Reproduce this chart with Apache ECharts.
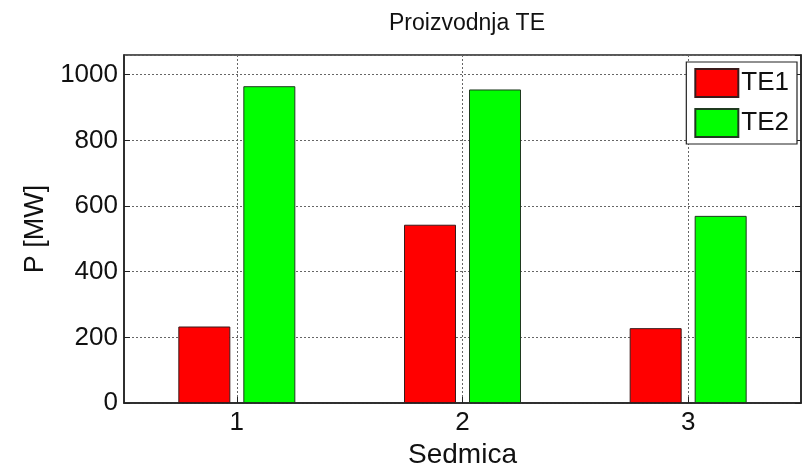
<!DOCTYPE html>
<html>
<head>
<meta charset="utf-8">
<script src="https://cdn.jsdelivr.net/npm/echarts@6/dist/echarts.min.js"></script>
<style>html,body{margin:0;padding:0;background:#fff}#c{width:808px;height:467px}</style>
</head>
<body>
<div id="c"></div>
<script>
const categories = ['1', '2', '3'];
const te1 = [233, 543, 228];
const te2 = [965, 955, 570];
const yTicks = [0, 200, 400, 600, 800, 1000];
const seriesNames = ['TE1', 'TE2'];

const FONT = '"Liberation Sans", Arial, sans-serif';
const chart = echarts.init(document.getElementById('c'), null, {renderer: 'canvas'});
chart.setOption({
  animation: false,
  backgroundColor: '#fff',
  textStyle: {fontFamily: FONT, color: '#111'},
  title: {
    text: 'Proizvodnja TE',
    left: 462, top: 7, textAlign: 'center',
    textStyle: {fontFamily: FONT, fontSize: 23, fontWeight: 'normal', color: '#111'}
  },
  grid: {left: 124, right: 7, top: 55, bottom: 64, show: true, borderColor: '#222', borderWidth: 1.5,
         backgroundColor: 'transparent', containLabel: false, outerBoundsMode: 'none'},
  legend: {
    orient: 'vertical', right: 11, top: 62,
    itemWidth: 43, itemHeight: 28, itemGap: 10,
    padding: [6, 8, 6, 8],
    borderColor: '#222', borderWidth: 1.2, backgroundColor: '#fff',
    icon: 'rect',
    textStyle: {fontFamily: FONT, fontSize: 26, color: '#111', padding: [0, 0, 0, -2]},
    data: seriesNames
  },
  xAxis: {
    type: 'category', data: categories,
    name: 'Sedmica', nameLocation: 'middle', nameGap: 34,
    nameTextStyle: {fontFamily: FONT, fontSize: 28, color: '#111'},
    axisLine: {lineStyle: {color: '#222', width: 1.5}},
    axisTick: {show: true, alignWithLabel: true, inside: true, length: 6, lineStyle: {color: '#222'}},
    axisLabel: {fontFamily: FONT, fontSize: 26, color: '#111', margin: 7},
    splitLine: {show: true, alignWithLabel: true, lineStyle: {color: '#666', type: [2, 2], width: 1}}
  },
  yAxis: [{
    type: 'value', min: 0, max: 1060, interval: 200,
    name: 'P [MW]', nameLocation: 'middle', nameGap: 73,
    nameTextStyle: {fontFamily: FONT, fontSize: 27, color: '#111'},
    axisLine: {show: true, lineStyle: {color: '#222', width: 1.5}},
    axisTick: {show: true, inside: true, length: 6, lineStyle: {color: '#222'}},
    axisLabel: {fontFamily: FONT, fontSize: 26, color: '#111', margin: 6, showMaxLabel: false,
                formatter: function (v) { return String(v); }},
    splitLine: {show: true, lineStyle: {color: '#666', type: [2, 2], width: 1}}
  }, {
    type: 'value', min: 0, max: 1060, interval: 200, position: 'right',
    axisLine: {show: true, lineStyle: {color: '#222', width: 1.5}},
    axisTick: {show: true, inside: true, length: 6, lineStyle: {color: '#222'}},
    axisLabel: {show: false},
    splitLine: {show: false}
  }],
  series: [
    {name: seriesNames[0], type: 'bar', data: te1, barWidth: 52, barGap: '25%',
     itemStyle: {color: '#ff0000', borderColor: '#3a1a1a', borderWidth: 1}},
    {name: seriesNames[1], type: 'bar', data: te2, barWidth: 52, barGap: '25%',
     itemStyle: {color: '#00ff00', borderColor: '#1f3a1f', borderWidth: 1}}
  ]
});
</script>
</body>
</html>
